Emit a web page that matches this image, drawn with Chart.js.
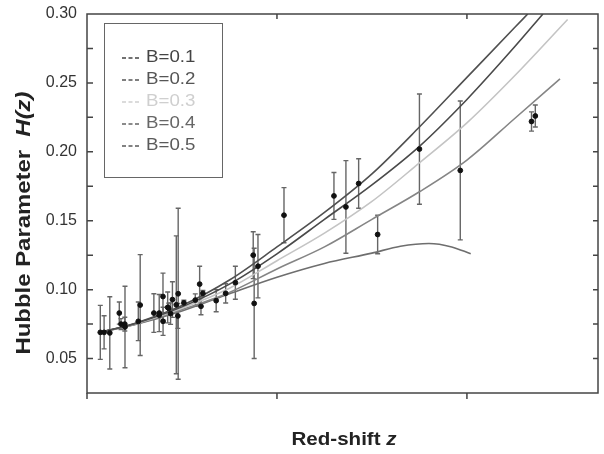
<!DOCTYPE html>
<html>
<head>
<meta charset="utf-8">
<script src="https://cdn.jsdelivr.net/npm/chart.js@4.4.1/dist/chart.umd.min.js"></script>
<style>
  html, body { margin: 0; padding: 0; background: #fff; }
  #wrap { width: 604px; height: 454px; }
</style>
</head>
<body>
<div id="wrap"><canvas id="hubble" width="604" height="454"></canvas></div>
<script>
// observed H(z) points (axis units), with 1-sigma errors
const obsZ = [0.07, 0.09, 0.12, 0.17, 0.179, 0.199, 0.2, 0.27, 0.28, 0.352, 0.38, 0.3802, 0.4, 0.4004,
  0.4247, 0.43, 0.44, 0.4497, 0.47, 0.4783, 0.48, 0.51, 0.57, 0.593, 0.6, 0.61, 0.68, 0.73, 0.781,
  0.875, 0.88, 0.9, 1.037, 1.3, 1.363, 1.43, 1.53, 1.75, 1.965, 2.34, 2.36];
const obsH = [0.069, 0.069, 0.0686, 0.083, 0.075, 0.075, 0.0729, 0.077, 0.0888, 0.083, 0.0815, 0.083, 0.095, 0.077,
  0.0871, 0.0865, 0.0826, 0.0928, 0.089, 0.0809, 0.097, 0.0904, 0.0924, 0.104, 0.0879, 0.0973, 0.092, 0.0973, 0.105,
  0.125, 0.090, 0.117, 0.154, 0.168, 0.160, 0.177, 0.140, 0.202, 0.1865, 0.222, 0.226];
const obsErr = [0.0196, 0.012, 0.0262, 0.008, 0.004, 0.005, 0.0296, 0.014, 0.0366, 0.014, 0.0019, 0.0135, 0.017, 0.0102,
  0.0112, 0.0037, 0.0078, 0.0129, 0.050, 0.009, 0.062, 0.0019, 0.0045, 0.013, 0.0061, 0.0021, 0.008, 0.007, 0.012,
  0.017, 0.040, 0.023, 0.020, 0.017, 0.0336, 0.018, 0.014, 0.040, 0.0504, 0.007, 0.008];

// model curves
const zB1 = [0.07, 0.25, 0.5, 0.75, 1.0, 1.25, 1.5, 1.75, 2.0, 2.25, 2.32];
const hB1 = [0.069, 0.0755, 0.0885, 0.107, 0.131, 0.156, 0.184, 0.218, 0.254, 0.290, 0.300];
const zB2 = [0.07, 0.25, 0.5, 0.75, 1.0, 1.25, 1.5, 1.75, 2.0, 2.25, 2.40];
const hB2 = [0.069, 0.0753, 0.0875, 0.104, 0.126, 0.151, 0.176, 0.204, 0.238, 0.276, 0.300];
const zB3 = [0.07, 0.25, 0.5, 0.75, 1.0, 1.25, 1.5, 1.75, 2.0, 2.25, 2.53];
const hB3 = [0.069, 0.075, 0.0865, 0.101, 0.121, 0.141, 0.164, 0.192, 0.221, 0.255, 0.296];
const zB4 = [0.07, 0.25, 0.5, 0.75, 1.0, 1.25, 1.5, 1.75, 2.0, 2.25, 2.49];
const hB4 = [0.069, 0.0748, 0.0855, 0.098, 0.115, 0.131, 0.151, 0.171, 0.194, 0.224, 0.253];
const zB5 = [0.07, 0.25, 0.5, 0.75, 1.0, 1.25, 1.5, 1.65, 1.8, 1.92, 2.02];
const hB5 = [0.069, 0.0745, 0.0845, 0.097, 0.109, 0.119, 0.1265, 0.1315, 0.1335, 0.131, 0.126];

const seriesNames = ['B=0.1', 'B=0.2', 'B=0.3', 'B=0.4', 'B=0.5'];
const yTickLabels = [0.05, 0.10, 0.15, 0.20, 0.25, 0.30];
const yTickMarks = [0.05, 0.075, 0.10, 0.125, 0.15, 0.175, 0.20, 0.225, 0.25, 0.275];
const xTickMarks = [0, 1, 2];

const lineColors = ['#505050', '#4a4a4a', '#c4c4c4', '#858585', '#6e6e6e'];
const textColors = ['#444', '#555', '#cfcfcf', '#666', '#5a5a5a'];

const pts = (zs, hs) => zs.map((z, i) => ({ x: z, y: hs[i] }));
const curves = [[zB1, hB1], [zB2, hB2], [zB3, hB3], [zB4, hB4], [zB5, hB5]];

const lineSets = curves.map(([zs, hs], i) => ({
  type: 'line',
  label: seriesNames[i],
  data: pts(zs, hs),
  borderColor: lineColors[i],
  borderWidth: 1.6,
  pointRadius: 0,
  fill: false,
  cubicInterpolationMode: 'monotone',
  order: 2
}));

// error bars under the markers
const errorBars = {
  id: 'errorBars',
  beforeDatasetsDraw(chart) {
    const { ctx, scales: { x, y } } = chart;
    ctx.save();
    ctx.strokeStyle = '#666';
    ctx.lineWidth = 1.4;
    obsZ.forEach((z, i) => {
      const px = x.getPixelForValue(z);
      const top = y.getPixelForValue(obsH[i] + obsErr[i]);
      const bot = y.getPixelForValue(obsH[i] - obsErr[i]);
      ctx.beginPath();
      ctx.moveTo(px, top); ctx.lineTo(px, bot);
      ctx.moveTo(px - 2.5, top); ctx.lineTo(px + 2.5, top);
      ctx.moveTo(px - 2.5, bot); ctx.lineTo(px + 2.5, bot);
      ctx.stroke();
    });
    ctx.restore();
  }
};

// frame, tick marks, legend box and axis titles
const decor = {
  id: 'decor',
  afterDraw(chart) {
    const { ctx, chartArea: a, scales: { x, y } } = chart;
    ctx.save();
    ctx.strokeStyle = '#444';
    ctx.lineWidth = 1.5;
    ctx.strokeRect(a.left, a.top, a.right - a.left, a.bottom - a.top);

    ctx.beginPath();
    yTickMarks.forEach(v => {
      const py = y.getPixelForValue(v);
      ctx.moveTo(a.left, py); ctx.lineTo(a.left + 6, py);
      ctx.moveTo(a.right, py); ctx.lineTo(a.right - 5, py);
    });
    xTickMarks.forEach(v => {
      const px = x.getPixelForValue(v);
      ctx.moveTo(px, a.bottom); ctx.lineTo(px, a.bottom + 6);
      if (v > 0) { ctx.moveTo(px, a.top); ctx.lineTo(px, a.top + 5); }
    });
    ctx.stroke();

    // legend
    ctx.lineWidth = 1;
    ctx.strokeStyle = '#666';
    ctx.strokeRect(104.5, 23.5, 118, 154);
    ctx.font = '17px "Liberation Sans", Arial, sans-serif';
    ctx.textBaseline = 'middle';
    seriesNames.forEach((name, i) => {
      const ly = 57 + i * 22;
      ctx.strokeStyle = textColors[i];
      ctx.lineWidth = 1.3;
      ctx.setLineDash([4, 2.5]);
      ctx.beginPath();
      ctx.moveTo(122, ly + 1); ctx.lineTo(140, ly + 1);
      ctx.stroke();
      ctx.setLineDash([]);
      ctx.fillStyle = textColors[i];
      ctx.save();
      ctx.translate(146, ly);
      ctx.scale(1.1, 1);
      ctx.fillText(name, 0, 0);
      ctx.restore();
    });

    // x title
    ctx.fillStyle = '#222';
    ctx.textBaseline = 'middle';
    const fB = 'bold 18px "Liberation Sans", Arial, sans-serif';
    const fI = 'italic bold 18px "Liberation Sans", Arial, sans-serif';
    ctx.font = fB; const w1 = ctx.measureText('Red-shift ').width;
    ctx.font = fI; const w2 = ctx.measureText('z').width;
    let s = 105 / (w1 + w2);
    ctx.save();
    ctx.translate(344 - 52.5, 440);
    ctx.scale(s, 1);
    ctx.font = fB; ctx.textAlign = 'left'; ctx.fillText('Red-shift ', 0, 0);
    ctx.font = fI; ctx.fillText('z', w1, 0);
    ctx.restore();

    // y title
    const gB = 'bold 20px "Liberation Sans", Arial, sans-serif';
    const gI = 'italic bold 20px "Liberation Sans", Arial, sans-serif';
    ctx.font = gB; const v1 = ctx.measureText('Hubble Parameter  ').width;
    ctx.font = gI; const v2 = ctx.measureText('H(z)').width;
    s = 263 / (v1 + v2);
    ctx.save();
    ctx.translate(24, 223 + 131.5);
    ctx.rotate(-Math.PI / 2);
    ctx.scale(s, 1);
    ctx.font = gB; ctx.fillText('Hubble Parameter  ', 0, 0);
    ctx.font = gI; ctx.fillText('H(z)', v1, 0);
    ctx.restore();
    ctx.restore();
  }
};

new Chart(document.getElementById('hubble').getContext('2d'), {
  type: 'scatter',
  data: {
    datasets: [
      {
        type: 'scatter',
        label: 'data',
        data: pts(obsZ, obsH),
        backgroundColor: '#111',
        borderColor: '#111',
        pointRadius: 2.4,
        order: 1
      },
      ...lineSets
    ]
  },
  options: {
    responsive: false,
    animation: false,
    layout: { padding: { top: 14, right: 6, left: 0, bottom: 0 } },
    plugins: { legend: { display: false }, tooltip: { enabled: false } },
    scales: {
      x: {
        type: 'linear',
        min: 0,
        max: 2.69,
        ticks: { display: false },
        grid: { display: false },
        border: { display: false },
        afterFit: s => { s.height = 61; }
      },
      y: {
        min: 0.025,
        max: 0.30,
        afterBuildTicks: s => { s.ticks = yTickLabels.map(v => ({ value: v })); },
        ticks: {
          padding: 10,
          color: '#333',
          font: { family: '"Liberation Sans", Arial, sans-serif', size: 16, lineHeight: 0.4 },
          callback: v => v.toFixed(2)
        },
        grid: { display: false, drawTicks: false },
        border: { display: false },
        afterFit: s => { s.width = 87; }
      }
    }
  },
  plugins: [errorBars, decor]
});
</script>
</body>
</html>
